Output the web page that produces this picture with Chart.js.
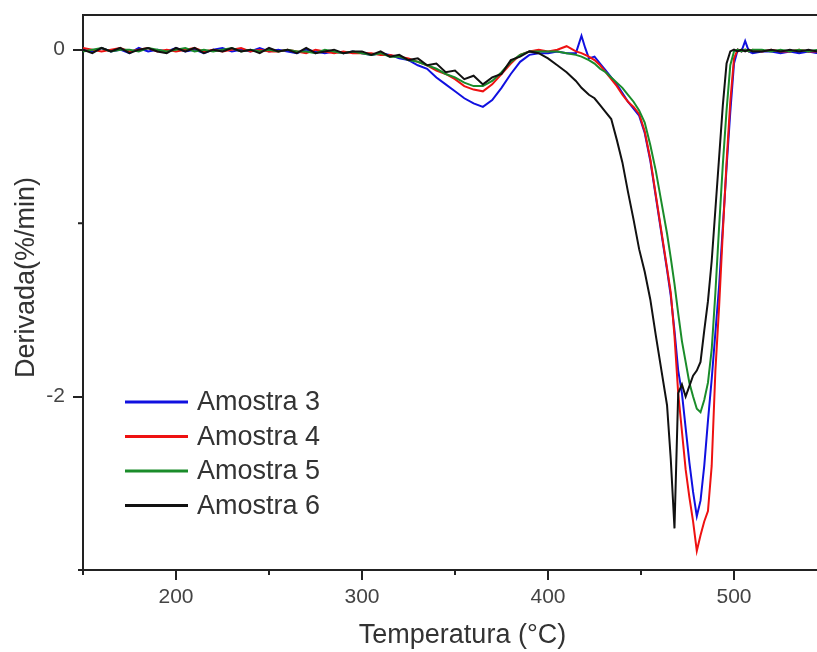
<!DOCTYPE html>
<html lang="pt">
<head>
<meta charset="UTF-8">
<title>Derivada - Amostras 3 a 6</title>
<script src="https://cdn.jsdelivr.net/npm/chart.js"></script>
<style>
  body { margin: 0; background: #fff; overflow: hidden; }
  #wrap { width: 830px; height: 652px; }
</style>
</head>
<body>
<div id="wrap"><canvas id="dtgChart"></canvas></div>
<script>
// temperatura (°C), grade comum a todas as amostras
const temperatures = [
  150, 155, 160, 165, 170, 175, 180, 185, 190, 195, 200,
  205, 210, 215, 220, 225, 230, 235, 240, 245, 250,
  255, 260, 265, 270, 275, 280, 285, 290, 295, 300,
  305, 310, 315, 320, 325, 330, 335, 340, 345, 350,
  355, 360, 365, 370, 375, 380, 385, 390, 395,
  400, 405, 410, 415, 418, 420, 422, 425, 428,
  431, 434, 437, 440, 443, 446, 449, 452, 455,
  458, 461, 464, 466, 468, 470, 472, 474, 476,
  478, 480, 482, 484, 486, 488, 490, 492, 494,
  496, 498, 500, 502, 504, 506, 508, 510,
  515, 520, 525, 530, 535, 540, 545, 550
];

// derivada (%/min)
const amostra3 = [
  0.00, -0.01, 0.01, -0.01, 0.00, -0.02, 0.01, -0.01, 0.00, -0.01, 0.01,
  -0.01, 0.00, -0.02, 0.00, 0.01, -0.01, 0.00, -0.01, 0.01, -0.01,
  0.00, -0.01, -0.02, 0.00, -0.01, -0.02, -0.01, -0.02, -0.01, -0.02,
  -0.03, -0.02, -0.03, -0.05, -0.06, -0.09, -0.11, -0.16, -0.20, -0.24,
  -0.28, -0.31, -0.33, -0.29, -0.22, -0.14, -0.07, -0.03, -0.02,
  -0.02, -0.01, -0.02, -0.02, 0.08, 0.01, -0.05, -0.04, -0.08,
  -0.12, -0.16, -0.20, -0.25, -0.30, -0.34, -0.38, -0.48, -0.64,
  -0.85, -1.06, -1.27, -1.42, -1.62, -1.85, -1.98, -2.18, -2.38,
  -2.55, -2.69, -2.60, -2.40, -2.14, -1.90, -1.63, -1.36, -1.02,
  -0.68, -0.36, -0.08, 0.00, -0.01, 0.05, -0.01, -0.02,
  -0.01, -0.01, -0.02, -0.01, -0.02, -0.01, -0.02, -0.01
];
const amostra4 = [
  0.01, 0.00, -0.01, 0.00, 0.01, -0.01, 0.00, 0.01, -0.01, 0.00, -0.01,
  0.00, 0.01, -0.01, 0.00, -0.01, 0.00, 0.01, -0.01, 0.00, -0.01,
  -0.01, 0.00, -0.01, -0.02, 0.00, -0.01, -0.02, -0.01, -0.02, -0.02,
  -0.02, -0.03, -0.03, -0.04, -0.05, -0.07, -0.09, -0.12, -0.14, -0.17,
  -0.21, -0.23, -0.24, -0.20, -0.14, -0.08, -0.03, -0.01, 0.00,
  -0.01, 0.00, 0.02, -0.01, -0.02, -0.03, -0.04, -0.06, -0.09,
  -0.13, -0.17, -0.21, -0.26, -0.30, -0.33, -0.37, -0.47, -0.63,
  -0.84, -1.05, -1.26, -1.40, -1.65, -1.98, -2.20, -2.42, -2.58,
  -2.72, -2.89, -2.80, -2.72, -2.66, -2.40, -1.85, -1.48, -1.05,
  -0.65, -0.30, -0.05, 0.00, -0.01, 0.00, -0.01, 0.00,
  -0.01, 0.00, -0.01, -0.01, 0.00, -0.01, -0.01, 0.00
];
const amostra5 = [
  -0.01, 0.00, 0.01, -0.01, 0.00, 0.00, -0.01, 0.01, 0.00, -0.01, 0.00,
  0.01, -0.01, 0.00, -0.01, 0.00, 0.01, -0.01, 0.00, -0.01, 0.00,
  -0.01, 0.00, -0.01, -0.01, -0.02, 0.00, -0.01, -0.02, -0.01, -0.02,
  -0.03, -0.02, -0.04, -0.04, -0.06, -0.07, -0.09, -0.11, -0.14, -0.16,
  -0.19, -0.21, -0.21, -0.18, -0.13, -0.07, -0.03, -0.01, -0.01,
  -0.01, -0.01, -0.02, -0.03, -0.04, -0.05, -0.06, -0.08, -0.11,
  -0.13, -0.16, -0.19, -0.22, -0.26, -0.30, -0.35, -0.42, -0.55,
  -0.70, -0.88, -1.06, -1.20, -1.35, -1.52, -1.68, -1.80, -1.92,
  -2.00, -2.07, -2.09, -2.02, -1.92, -1.73, -1.40, -1.02, -0.66,
  -0.35, -0.09, -0.01, 0.00, -0.01, 0.00, -0.01, 0.00,
  0.00, -0.01, 0.00, -0.01, 0.00, -0.01, 0.00, -0.01
];
const amostra6 = [
  0.00, -0.02, 0.01, -0.01, 0.01, -0.02, 0.00, 0.01, -0.01, -0.02, 0.01,
  -0.01, 0.01, -0.02, 0.00, -0.01, 0.01, -0.01, 0.00, -0.02, 0.01,
  -0.01, 0.00, -0.02, 0.01, -0.02, -0.01, 0.00, -0.02, -0.01, -0.01,
  -0.03, -0.01, -0.04, -0.03, -0.06, -0.05, -0.09, -0.08, -0.13, -0.12,
  -0.17, -0.15, -0.20, -0.16, -0.14, -0.06, -0.04, -0.01, -0.02,
  -0.05, -0.09, -0.13, -0.18, -0.22, -0.24, -0.26, -0.28, -0.32,
  -0.36, -0.40, -0.52, -0.65, -0.82, -0.98, -1.15, -1.28, -1.44,
  -1.65, -1.85, -2.05, -2.36, -2.76, -1.98, -1.93, -2.00, -1.94,
  -1.88, -1.85, -1.80, -1.62, -1.45, -1.22, -0.92, -0.62, -0.32,
  -0.08, -0.01, 0.00, -0.01, 0.00, -0.01, 0.00, -0.01,
  -0.01, 0.00, -0.01, 0.00, -0.01, 0.00, -0.01, -0.01
];

const seriesNames = ['Amostra 3', 'Amostra 4', 'Amostra 5', 'Amostra 6'];
const xMajorTicks = [200, 300, 400, 500];
const xMinorTicks = [150, 250, 350, 450, 550];
const yMajorTicks = [-2, 0];
const yMinorTicks = [-3, -1];

function toPoints(values) {
  return temperatures.map((t, i) => ({ x: t, y: values[i] }));
}

// moldura superior, ticks menores e legenda dentro do gráfico
const framePlugin = {
  id: 'frame',
  afterDraw(chart) {
    const { ctx, chartArea: a, scales } = chart;
    ctx.save();
    ctx.strokeStyle = '#222';
    ctx.lineWidth = 2;
    ctx.beginPath();
    ctx.moveTo(a.left, a.top);
    ctx.lineTo(a.right, a.top);
    ctx.lineTo(a.right, a.bottom);
    ctx.stroke();

    ctx.beginPath();
    xMinorTicks.forEach(v => {
      const x = scales.x.getPixelForValue(v);
      ctx.moveTo(x, a.bottom);
      ctx.lineTo(x, a.bottom + 5);
    });
    yMinorTicks.forEach(v => {
      const y = scales.y.getPixelForValue(v);
      ctx.moveTo(a.left, y);
      ctx.lineTo(a.left - 5, y);
    });
    ctx.stroke();

    ctx.font = '27px "Liberation Sans", Arial, sans-serif';
    ctx.textBaseline = 'middle';
    ctx.fillStyle = '#333';
    chart.data.datasets.forEach((ds, i) => {
      const y = a.bottom - 168 + i * 34.5;
      ctx.strokeStyle = ds.borderColor;
      ctx.lineWidth = 3;
      ctx.beginPath();
      ctx.moveTo(a.left + 42, y);
      ctx.lineTo(a.left + 105, y);
      ctx.stroke();
      ctx.fillText(ds.label, a.left + 114, y + 1);
    });
    ctx.restore();
  }
};

const colors = ['#1010e0', '#ee1111', '#1a8c2a', '#111111'];
const fontFamily = '"Liberation Sans", Arial, sans-serif';

const ctx = document.getElementById('dtgChart').getContext('2d');
new Chart(ctx, {
  type: 'line',
  data: {
    datasets: [amostra3, amostra4, amostra5, amostra6].map((vals, i) => ({
      label: seriesNames[i],
      data: toPoints(vals),
      borderColor: colors[i],
      borderWidth: 2,
      pointRadius: 0,
      tension: 0,
      fill: false,
      order: 3 - i
    }))
  },
  options: {
    responsive: true,
    maintainAspectRatio: false,
    animation: false,
    layout: { padding: { top: 15, right: 3, left: 0, bottom: 0 } },
    plugins: {
      legend: { display: false },
      tooltip: { enabled: false }
    },
    scales: {
      x: {
        type: 'linear',
        min: 150,
        max: 550,
        afterBuildTicks(scale) { scale.ticks = xMajorTicks.map(v => ({ value: v })); },
        afterFit(scale) { scale.height = 82; },
        ticks: {
          padding: 5,
          color: '#444',
          font: { family: fontFamily, size: 21 }
        },
        grid: { drawOnChartArea: false, drawTicks: true, tickLength: 10, color: '#222', lineWidth: 2 },
        border: { display: true, color: '#222', width: 2 },
        title: {
          display: true,
          text: '  Temperatura (°C)',
          color: '#333',
          padding: { top: 4, bottom: 0 },
          font: { family: fontFamily, size: 27 }
        }
      },
      y: {
        min: -3,
        max: 0.2,
        afterBuildTicks(scale) { scale.ticks = yMajorTicks.map(v => ({ value: v })); },
        afterFit(scale) {
          scale.width = 83;
          scale.paddingTop = 0;
          scale.paddingBottom = 0;
        },
        ticks: {
          padding: 8,
          color: '#444',
          font: { family: fontFamily, size: 21 }
        },
        grid: { drawOnChartArea: false, drawTicks: true, tickLength: 10, color: '#222', lineWidth: 2 },
        border: { display: true, color: '#222', width: 2 },
        title: {
          display: true,
          text: '    Derivada(%/min)',
          color: '#333',
          padding: { top: 10, bottom: 0 },
          font: { family: fontFamily, size: 27 }
        }
      }
    }
  },
  plugins: [framePlugin]
});
</script>
</body>
</html>
